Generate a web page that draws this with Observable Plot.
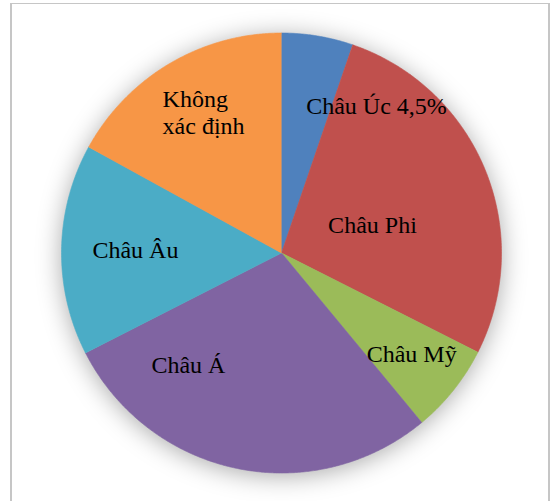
<!DOCTYPE html>
<html><head><meta charset="utf-8">
<script src="https://cdn.jsdelivr.net/npm/d3@7"></script>
<script src="https://cdn.jsdelivr.net/npm/@observablehq/plot@0.6"></script>
<style>
body{margin:0;background:#fff;}
#wrap{position:relative;width:550px;height:501px;overflow:hidden;}
#frame{position:absolute;left:10px;top:3px;width:536px;height:520px;border-left:2px solid #c6c6c6;border-top:1px solid #c6c6c6;border-right:2px solid #c6c6c6;pointer-events:none;}
</style></head><body>
<div id="wrap"><div id="chart"></div><div id="frame"></div></div>
<script>
// Data
const categories = ["Châu Úc", "Châu Phi", "Châu Mỹ", "Châu Á", "Châu Âu", "Không xác định"];
const values = [5.25, 27.2, 6.55, 28.5, 15.5, 17.0];
const labels = ["Châu Úc 4,5%", "Châu Phi", "Châu Mỹ", "Châu Á", "Châu Âu", "Không\nxác định"];
const colors = ["#4F81BD", "#C0504D", "#9BBB59", "#8064A2", "#4BACC6", "#F79646"];

// Layout (label placement relative to each slice: angle shift in degrees, radius fraction)
const labelShift = [23.5, 5.3, -0.7, 27.9, 0.15, -9.5];
const labelRadius = [0.794, 0.432, 0.75, 0.664, 0.664, 0.839];

const W = 550, H = 501, CX = 281, CY = 252.5, R = 220;
const total = d3.sum(values);
const rad = d => d * Math.PI / 180;

let acc = 0;
const slices = categories.map((c, i) => {
  const a0 = acc / total * 360;
  acc += values[i];
  const a1 = acc / total * 360;
  return {cat: c, a0, a1, i};
});

const piePts = [];
for (const s of slices) {
  piePts.push({cat: s.cat, x: 0, y: 0});
  const n = Math.max(2, Math.ceil((s.a1 - s.a0) / 0.4));
  for (let k = 0; k <= n; k++) {
    const a = rad(s.a0 + (s.a1 - s.a0) * k / n);
    piePts.push({cat: s.cat, x: Math.sin(a), y: Math.cos(a)});
  }
}

const labelPts = slices.map(s => {
  const a = rad((s.a0 + s.a1) / 2 + labelShift[s.i]);
  const r = labelRadius[s.i];
  return {text: labels[s.i], x: r * Math.sin(a), y: r * Math.cos(a), start: s.i === 5};
});

const plot = Plot.plot({
  width: W, height: H,
  margin: 0,
  style: {background: "transparent"},
  x: {domain: [-CX / R, (W - CX) / R], axis: null},
  y: {domain: [-(H - CY) / R, CY / R], axis: null},
  color: {domain: categories, range: colors},
  marks: [
    Plot.line(piePts, {x: "x", y: "y", z: "cat", fill: "cat", stroke: "cat", strokeWidth: 0.6, curve: "linear"}),
    Plot.text(labelPts.filter(d => !d.start), {x: "x", y: "y", text: "text", fontFamily: "Liberation Serif", fontSize: 24, fill: "#000", textAnchor: "middle"}),
    Plot.text(labelPts.filter(d => d.start), {x: "x", y: "y", text: "text", fontFamily: "Liberation Serif", fontSize: 24, fill: "#000", textAnchor: "start", lineHeight: 1.12})
  ]
});
const g = plot.querySelector('g[aria-label="line"]');
if (g) g.style.filter = "drop-shadow(0px 3px 12px rgba(0,0,0,0.33))";
document.getElementById("chart").appendChild(plot);
</script>
</body></html>
